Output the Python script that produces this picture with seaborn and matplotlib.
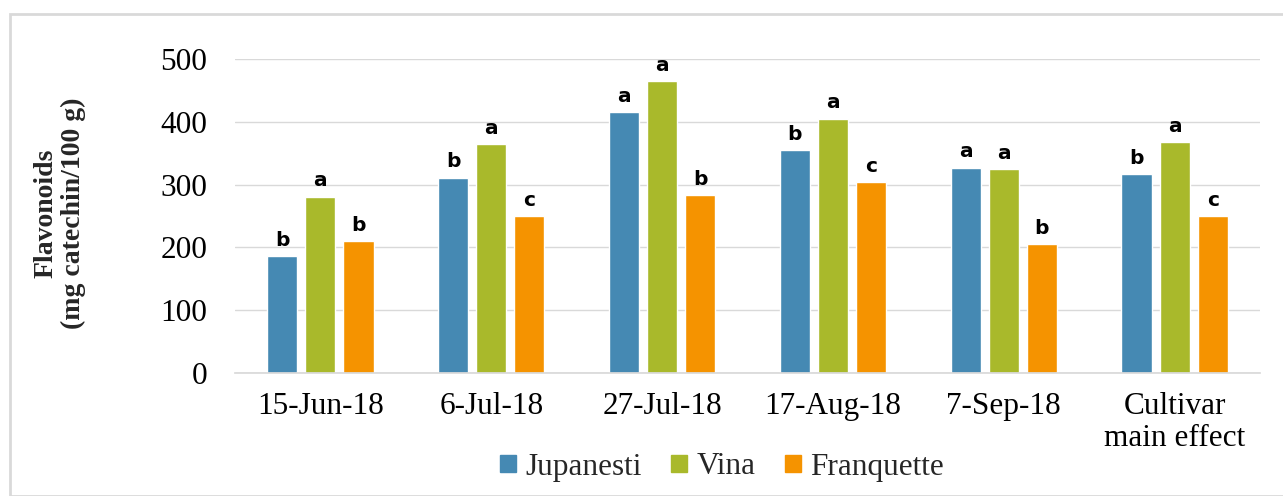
import matplotlib
matplotlib.use("Agg")
import matplotlib.pyplot as plt
import seaborn as sns
import pandas as pd
from matplotlib.patches import Rectangle

dates = ["15-Jun-18", "6-Jul-18", "27-Jul-18", "17-Aug-18", "7-Sep-18", "Cultivar\nmain effect"]
cultivars = ["Jupanesti", "Vina", "Franquette"]
jupanesti = [186, 311, 415, 355, 327, 317]
vina = [281, 365, 465, 405, 325, 368]
franquette = [210, 250, 283, 304, 205, 250]
letters_j = ["b", "b", "a", "b", "a", "b"]
letters_v = ["a", "a", "a", "a", "a", "a"]
letters_f = ["b", "c", "b", "c", "b", "c"]
colors = ["#4589b3", "#a9b92b", "#f59300"]

rows = []
for c, vals, lets in zip(cultivars, [jupanesti, vina, franquette], [letters_j, letters_v, letters_f]):
    for d, v, l in zip(dates, vals, lets):
        rows.append({"date": d, "cultivar": c, "value": v, "letter": l})
df = pd.DataFrame(rows)

sns.set_theme(style="white")
plt.rcParams["font.family"] = ["Liberation Serif", "DejaVu Serif"]

FS = 22.5

fig = plt.figure(figsize=(12.83, 4.96), dpi=100)
ax = fig.add_axes([235/1283, 1-373/496, (1260-235)/1283, (373-59)/496])

sns.barplot(data=df, x="date", y="value", hue="cultivar", order=dates, hue_order=cultivars,
            palette=colors, width=0.67, ax=ax, legend=False, saturation=1, errorbar=None)

# shrink bars to leave small gaps, keep centres
for p in ax.patches:
    w = p.get_width()
    nw = w * 0.79
    p.set_x(p.get_x() + (w - nw) / 2)
    p.set_width(nw)

# letters above bars
for container, c in zip(ax.containers, cultivars):
    sub = df[df.cultivar == c].set_index("date").loc[dates]
    for bar, l in zip(container, sub["letter"]):
        ax.text(bar.get_x() + bar.get_width()/2, bar.get_height() + 10, l,
                ha="center", va="bottom", fontsize=14.5, fontweight="bold",
                family="DejaVu Sans", color="black")

ax.set_ylim(0, 500)
ax.set_yticks([0, 100, 200, 300, 400, 500])
ax.set_xlim(-0.5, 5.5)
ax.yaxis.grid(True, color="#d9d9d9", linewidth=1)
ax.set_axisbelow(True)
for s in ["top", "right", "left"]:
    ax.spines[s].set_visible(False)
ax.spines["bottom"].set_color("#d9d9d9")
ax.tick_params(axis="both", length=0, labelsize=FS, colors="black")
ax.tick_params(axis="y", pad=20)
ax.tick_params(axis="x", pad=14)
ax.set_xlabel("")
ax.set_ylabel("")
for t in ax.get_xticklabels():
    t.set_linespacing(1.1)

fig.text(60/1283, 1-213/496, "Flavonoids\n(mg catechin/100 g)", rotation=90, ha="center", va="center",
         fontsize=20, fontweight="bold", linespacing=1.1)

handles = [Rectangle((0, 0), 1, 1, color=col) for col in colors]
fig.legend(handles, cultivars, loc="center", bbox_to_anchor=(722/1283, 1-467/496), ncol=3,
           frameon=False, fontsize=FS, handlelength=0.5, handleheight=0.5, handletextpad=0.3,
           columnspacing=0.95)

fig.patches.append(Rectangle((10/1283, 0.0), 1.0, 1-14/496, transform=fig.transFigure,
                             fill=False, edgecolor="#d9d9d9", linewidth=2))

fig.savefig("out.png", dpi=100)
